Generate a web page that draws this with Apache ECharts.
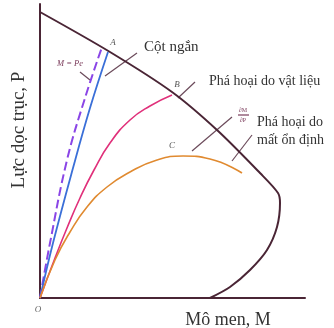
<!DOCTYPE html>
<html><head><meta charset="utf-8">
<script src="https://cdn.jsdelivr.net/npm/echarts@6/dist/echarts.min.js"></script>
<style>html,body{margin:0;padding:0;background:#fff}#c{width:334px;height:328px}</style>
</head><body><div id="c"></div>
<script>
// values in arbitrary units: [moment M, axial force P]
const boundary = [[0,286],[70,246],[132,206],[177,168],[220,125],[238,105],[240,95],[237,71],[227,48],[210,28],[190,11],[170,0]];
const shortColumn = [[0,0],[13,55],[33,130],[50,190],[68,246]];
const eccentricLine = [[0,0],[10,55],[27,138],[45,200],[62,251]];
const materialFailure = [[0,0],[15,40],[27,70],[40,100],[54,128],[70,155],[90,178],[110,192],[132,203]];
const stabilityFailure = [[0,0],[15,38],[30,66],[47,91],[67,111],[90,126],[117,138],[143,142],[170,139],[202,125]];
const axisNames = ['Mô men, M','Lực dọc trục, P'];

const chart = echarts.init(document.getElementById('c'));
const serif = '"Liberation Serif","DejaVu Serif",serif';
const ax = {type:'value', axisLine:{show:true,onZero:true,lineStyle:{color:'#4a2535',width:2}}, axisTick:{show:false}, axisLabel:{show:false}, splitLine:{show:false}};
function line(x1,y1,x2,y2,c){return {type:'line',shape:{x1,y1,x2,y2},style:{stroke:c||'#6b4a5a',lineWidth:1.2},silent:true};}
function txt(t,x,y,size,opt){return {type:'text',x,y,style:Object.assign({text:t,font:size+'px '+serif,fill:'#333',textAlign:'left',textVerticalAlign:'middle'},opt||{})};}
chart.setOption({
  animation:false,
  grid:{left:40,right:29,top:4,bottom:30},
  xAxis:Object.assign({min:0,max:265},ax),
  yAxis:Object.assign({min:0,max:294},ax),
  series:[
    {type:'line',data:boundary,smooth:0.3,showSymbol:false,lineStyle:{color:'#4a2535',width:2}},
    {type:'line',data:eccentricLine,smooth:0.4,showSymbol:false,lineStyle:{color:'#8a45e6',width:2,type:[9,4]}},
    {type:'line',data:shortColumn,smooth:0.4,showSymbol:false,lineStyle:{color:'#3a6fd8',width:1.8}},
    {type:'line',data:materialFailure,smooth:0.5,showSymbol:false,lineStyle:{color:'#e0307a',width:1.6}},
    {type:'line',data:stabilityFailure,smooth:0.5,showSymbol:false,lineStyle:{color:'#e08a30',width:1.6}}
  ],
  graphic:[
    line(137,53,105,76),
    line(80,72,90,80),
    line(195,82,178,98),
    line(232,117,192,151),
    line(252,135,232,161),
    txt('Cột ngắn',144,47,15),
    txt('Phá hoại do vật liệu',209,81,14),
    txt('Phá hoại do',257,122,14),
    txt('mất ổn định',257,140,14),
    txt('M = Pe',70,64,8.5,{textAlign:'center',fill:'#7a3a5a',font:'italic 8.5px '+serif}),
    txt('∂M',243,110,6,{textAlign:'center',fill:'#7a3a5a'}),
    line(238,115,249,115,'#7a3a5a'),
    txt('∂P',243,120,6,{textAlign:'center',fill:'#7a3a5a'}),
    txt('A',113,43,9,{textAlign:'center',fill:'#555',font:'italic 9px '+serif}),
    txt('B',177,85,9,{textAlign:'center',fill:'#555',font:'italic 9px '+serif}),
    txt('C',172,146,9,{textAlign:'center',fill:'#555',font:'italic 9px '+serif}),
    txt('O',38,310,9,{textAlign:'center',fill:'#666',font:'italic 9px '+serif}),
    txt(axisNames[0],228,320,18,{textAlign:'center'}),
    {type:'text',x:19,y:130,rotation:Math.PI/2,style:{text:axisNames[1],font:'19px '+serif,fill:'#333',textAlign:'center',textVerticalAlign:'middle'}}
  ]
});
</script></body></html>
